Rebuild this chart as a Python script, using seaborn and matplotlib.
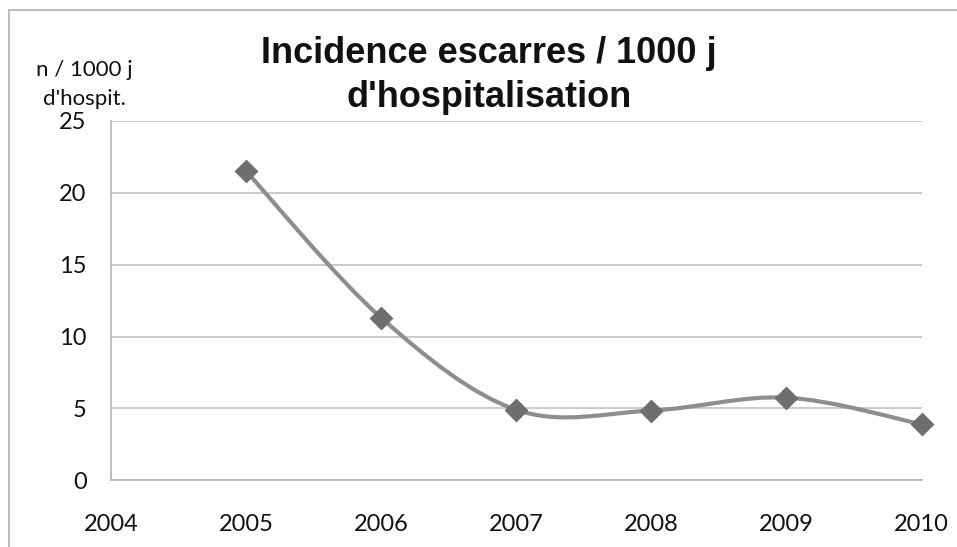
import matplotlib
matplotlib.use("Agg")
import matplotlib.pyplot as plt
import seaborn as sns
import numpy as np
import pandas as pd
from matplotlib.path import Path
from matplotlib.patches import PathPatch
from matplotlib.lines import Line2D

years = [2005, 2006, 2007, 2008, 2009, 2010]
incidence = [21.5, 11.3, 4.9, 4.85, 5.75, 3.9]
x_ticks = [2004, 2005, 2006, 2007, 2008, 2009, 2010]
y_ticks = [0, 5, 10, 15, 20, 25]

title = "Incidence escarres / 1000 j\nd'hospitalisation"
y_label = "n / 1000 j\nd'hospit."

df = pd.DataFrame({"annee": years, "valeur": incidence})

sns.set_style("white")
plt.rcParams['font.family'] = ['Lato', 'DejaVu Sans']

fig = plt.figure(figsize=(9.57, 5.47), dpi=100)
ax = fig.add_axes([0.116, 0.122, 0.847, 0.657])

# smoothed line (Excel-like Catmull-Rom bezier)
pts = df[["annee", "valeur"]].to_numpy(dtype=float)
verts = [tuple(pts[0])]
codes = [Path.MOVETO]
n = len(pts)
for i in range(n - 1):
    p0 = pts[i - 1] if i > 0 else pts[i]
    p1 = pts[i]
    p2 = pts[i + 1]
    p3 = pts[i + 2] if i + 2 < n else pts[i + 1]
    c1 = p1 + (p2 - p0) / 6.0
    c2 = p2 - (p3 - p1) / 6.0
    verts += [tuple(c1), tuple(c2), tuple(p2)]
    codes += [Path.CURVE4] * 3
ax.add_patch(PathPatch(Path(verts, codes), facecolor="none",
                       edgecolor="#8e8e8e", lw=3.0, zorder=3, clip_on=False))

sns.scatterplot(data=df, x="annee", y="valeur", marker="D", s=130,
                color="#6e6e6e", edgecolor="#6e6e6e", linewidth=0.8,
                ax=ax, zorder=4, legend=False, clip_on=False)

ax.set_xlim(2004, 2010)
ax.set_ylim(0, 25)
ax.set_xticks(x_ticks)
ax.set_yticks(y_ticks)
ax.set_xlabel("")
ax.set_ylabel("")
ax.yaxis.grid(True, color="#c6c6c6", lw=1.3)
ax.set_axisbelow(True)
for s in ["top", "right"]:
    ax.spines[s].set_visible(False)
for s in ["left", "bottom"]:
    ax.spines[s].set_color("#b4b4b4")
    ax.spines[s].set_linewidth(1.2)
ax.tick_params(axis="both", which="major", direction="out", length=5.5,
               width=1.2, color="#b4b4b4", labelsize=17, labelcolor="#111111")
ax.tick_params(axis="x", pad=19)
ax.tick_params(axis="y", pad=12)

fig.text(0.511, 0.862, title, ha="center", va="center", fontsize=26,
         fontweight="bold", family=["Liberation Sans", "DejaVu Sans"],
         linespacing=1.3, color="#111111")
fig.text(0.088, 0.845, y_label, ha="center", va="center", fontsize=16,
         linespacing=1.56, color="#111111")

# outer chart frame
fig.add_artist(Line2D([0.009, 0.009], [0.0, 0.982], color="#b0b0b0", lw=1.2,
                      transform=fig.transFigure))
fig.add_artist(Line2D([0.009, 1.0], [0.982, 0.982], color="#b0b0b0", lw=1.2,
                      transform=fig.transFigure))

fig.savefig("out.png", dpi=100, facecolor="white")
